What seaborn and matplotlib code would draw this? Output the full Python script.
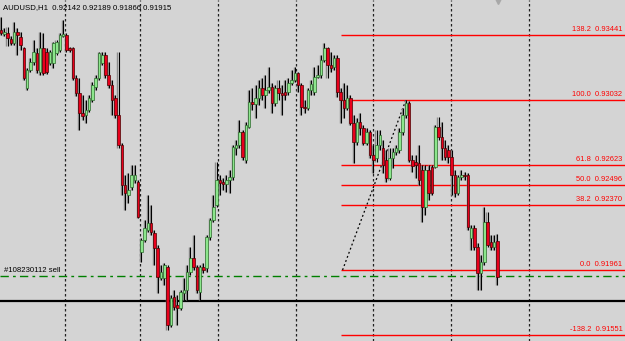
import matplotlib
matplotlib.use("Agg")
import matplotlib.pyplot as plt
import seaborn as sns
import numpy as np
import pandas as pd

# ---------------- data ----------------
opens = [0.93473,0.93448,0.93454,0.93416,0.93391,0.93460,0.93429,0.93360,0.93108,0.93221,
         0.93271,0.93328,0.93208,0.93360,0.93334,0.93265,0.93265,0.93328,0.93347,0.93435,
         0.93441,0.93360,0.93360,0.93171,0.93076,0.92950,0.92937,0.92969,0.93032,0.93114,
         0.93171,0.93265,0.93315,0.93189,0.93127,0.93045,0.92937,0.92749,0.92497,0.92434,
         0.92484,0.92528,0.92515,0.92074,0.92150,0.92213,0.92257,0.92194,0.92100,0.91911,
         0.91911,0.91980,0.91615,0.91791,0.91741,0.91722,0.91816,0.91835,0.91948,0.92037,
         0.91980,0.91822,0.91980,0.91974,0.92169,0.92276,0.92371,0.92528,0.92515,0.92503,
         0.92528,0.92547,0.92730,0.92749,0.92831,0.92654,0.92862,0.93019,0.93007,0.93045,
         0.93108,0.93063,0.93095,0.93114,0.93013,0.93108,0.93076,0.93082,0.93082,0.93139,
         0.93158,0.93202,0.93127,0.92988,0.92982,0.93095,0.93082,0.93177,0.93189,0.93284,
         0.93360,0.93252,0.93240,0.93297,0.93082,0.93032,0.92982,0.93045,0.92887,0.92767,
         0.92893,0.92856,0.92761,0.92831,0.92686,0.92667,0.92749,0.92730,0.92654,0.92541,
         0.92667,0.92704,0.92717,0.92831,0.92937,0.93013,0.92654,0.92641,0.92635,0.92591,
         0.92358,0.92591,0.92610,0.92610,0.92862,0.92799,0.92730,0.92717,0.92673,0.92560,
         0.92446,0.92547,0.92560,0.92560,0.92163,0.92226,0.92106,0.91942,0.92011,0.92263,
         0.92137,0.92106,0.92142]
closes = [0.93454,0.93460,0.93423,0.93391,0.93460,0.93441,0.93378,0.93171,0.93221,0.93271,
          0.93334,0.93221,0.93360,0.93202,0.93208,0.93334,0.93391,0.93397,0.93441,0.93448,
          0.93347,0.93347,0.93171,0.93076,0.92950,0.92931,0.92969,0.93045,0.93127,0.93171,
          0.93328,0.93315,0.93189,0.93127,0.93032,0.92937,0.92749,0.92497,0.92446,0.92465,
          0.92560,0.92560,0.92295,0.92150,0.92226,0.92257,0.92200,0.92100,0.91917,0.91948,
          0.91993,0.91615,0.91785,0.91728,0.91722,0.91822,0.91835,0.91948,0.92037,0.91980,
          0.91835,0.91980,0.91961,0.92169,0.92276,0.92358,0.92528,0.92509,0.92503,0.92528,
          0.92547,0.92736,0.92749,0.92831,0.92673,0.92875,0.93019,0.93007,0.93045,0.93108,
          0.93063,0.93095,0.93114,0.93013,0.93108,0.93076,0.93063,0.93063,0.93139,0.93158,
          0.93202,0.93127,0.92988,0.92982,0.93095,0.93133,0.93177,0.93189,0.93284,0.93360,
          0.93252,0.93234,0.93297,0.93082,0.93032,0.92982,0.93045,0.92887,0.92767,0.92893,
          0.92856,0.92761,0.92831,0.92686,0.92654,0.92749,0.92812,0.92622,0.92541,0.92667,
          0.92704,0.92730,0.92831,0.92937,0.93013,0.92654,0.92616,0.92622,0.92528,0.92358,
          0.92591,0.92446,0.92446,0.92862,0.92799,0.92730,0.92673,0.92673,0.92560,0.92446,
          0.92547,0.92560,0.92553,0.92232,0.92226,0.92106,0.91942,0.92011,0.92263,0.92119,
          0.92106,0.92137,0.91915]
highs = [0.93555,0.93486,0.93492,0.93435,0.93523,0.93486,0.93460,0.93366,0.93234,0.93297,
         0.93410,0.93360,0.93460,0.93454,0.93360,0.93347,0.93397,0.93410,0.93454,0.93536,
         0.93454,0.93366,0.93366,0.93189,0.93171,0.93063,0.93032,0.93063,0.93145,0.93189,
         0.93334,0.93334,0.93334,0.93271,0.93158,0.93063,0.93334,0.92761,0.92560,0.92572,
         0.92623,0.92623,0.92528,0.92163,0.92276,0.92434,0.92371,0.92213,0.92119,0.91993,
         0.92005,0.91993,0.91804,0.91835,0.91804,0.91835,0.91911,0.91993,0.92106,0.92181,
         0.91993,0.91993,0.92005,0.92181,0.92289,0.92434,0.92641,0.92560,0.92541,0.92560,
         0.92591,0.92749,0.92780,0.92906,0.92843,0.92893,0.93095,0.93108,0.93127,0.93158,
         0.93171,0.93189,0.93240,0.93139,0.93127,0.93158,0.93127,0.93158,0.93171,0.93221,
         0.93240,0.93208,0.93139,0.93032,0.93108,0.93158,0.93240,0.93252,0.93315,0.93391,
         0.93366,0.93334,0.93315,0.93315,0.93108,0.93139,0.93127,0.93063,0.92937,0.92919,
         0.92950,0.92875,0.92856,0.92843,0.92749,0.92843,0.92843,0.92780,0.92717,0.92730,
         0.92730,0.92749,0.92856,0.92982,0.93032,0.93026,0.92686,0.92686,0.92749,0.92622,
         0.92622,0.92622,0.92622,0.92875,0.92925,0.92893,0.92780,0.92749,0.92717,0.92591,
         0.92560,0.92591,0.92578,0.92572,0.92244,0.92244,0.92131,0.92056,0.92358,0.92326,
         0.92181,0.92181,0.92189]
lows = [0.93441,0.93435,0.93372,0.93378,0.93378,0.93315,0.93347,0.93158,0.93095,0.93208,
        0.93252,0.93202,0.93189,0.93189,0.93196,0.93252,0.93234,0.93315,0.93334,0.93429,
        0.93334,0.93334,0.93158,0.93057,0.92843,0.92906,0.92887,0.92956,0.93019,0.93095,
        0.93158,0.93252,0.93171,0.93108,0.92937,0.92919,0.92730,0.92434,0.92339,0.92383,
        0.92465,0.92509,0.92289,0.92011,0.92137,0.92200,0.92181,0.91993,0.91816,0.91898,
        0.91866,0.91583,0.91602,0.91709,0.91615,0.91709,0.91772,0.91772,0.91929,0.91961,
        0.91816,0.91772,0.91942,0.91948,0.92150,0.92263,0.92358,0.92434,0.92465,0.92452,
        0.92446,0.92528,0.92686,0.92730,0.92654,0.92635,0.92856,0.92969,0.92919,0.93001,
        0.93032,0.92982,0.93076,0.92950,0.92994,0.93032,0.92937,0.93032,0.93063,0.93127,
        0.93145,0.93082,0.92937,0.92950,0.92969,0.93063,0.93063,0.93171,0.93171,0.93271,
        0.93171,0.93208,0.93221,0.93051,0.92887,0.92919,0.92969,0.92874,0.92635,0.92749,
        0.92812,0.92749,0.92749,0.92667,0.92572,0.92641,0.92717,0.92572,0.92515,0.92528,
        0.92604,0.92686,0.92698,0.92812,0.92919,0.92641,0.92578,0.92541,0.92497,0.92263,
        0.92307,0.92402,0.92434,0.92604,0.92780,0.92654,0.92654,0.92635,0.92434,0.92421,
        0.92434,0.92528,0.92528,0.92213,0.92087,0.92087,0.91835,0.91835,0.91993,0.92106,
        0.92087,0.92087,0.91866]

fib_labels = ["138.2", "100.0", "61.8", "50.0", "38.2", "0.0", "-138.2"]
fib_prices = [0.93441, 0.93032, 0.92623, 0.92496, 0.92370, 0.91961, 0.91551]
fib_anchor_bars = [104.6, 124.0]          # low anchor bar, high anchor bar
fib_anchor_prices = [0.91961, 0.93032]
day_separators = [19.6, 42.6, 66.4, 90.3, 113.9, 137.8, 161.7]
order_price = 0.91923
order_label = "#108230112 sell"
support_price = 0.91766
title = "AUDUSD,H1  0.92142 0.92189 0.91866 0.91915"

# ---------------- style ----------------
sns.set_theme(style="white", rc={"axes.facecolor": "#d4d4d4", "figure.facecolor": "#d4d4d4"})
plt.rcParams["font.family"] = ["Liberation Sans", "DejaVu Sans"]

fig = plt.figure(figsize=(6.25, 3.41), dpi=100)
ax = fig.add_axes([0, 0, 1, 1])
ax.set_facecolor("#d4d4d4")

df = pd.DataFrame({"open": opens, "high": highs, "low": lows, "close": closes})
df["bar"] = np.arange(len(df))
df["bull"] = df["close"] >= df["open"]

x_left, x_right = -0.31, 191.1
y_top, y_bottom = 0.93662, 0.91514

# day separators
for d in day_separators:
    ax.axvline(d, color="#202020", lw=0.9, ls=(0, (2, 2)), zorder=1)

# fib levels
for lab, p in zip(fib_labels, fib_prices):
    ax.hlines(p, fib_anchor_bars[0] - 0.5, x_right, color="#ff0000", lw=1.0, zorder=2)
    ax.annotate(f"{lab}  {p:.5f}", xy=(0.996, p), xycoords=("axes fraction", "data"),
                xytext=(0, 1.5), textcoords="offset points", ha="right", va="bottom",
                fontsize=5.4, color="#ff0000")

# order line & support line
ax.axhline(order_price, color="#008000", lw=1.0, ls=(0, (6, 3, 2, 3)), zorder=2)
ax.axhline(support_price, color="black", lw=1.6, zorder=2)
ax.annotate(order_label, xy=(0.006, order_price), xycoords=("axes fraction", "data"),
            xytext=(0, 1.5), textcoords="offset points", ha="left", va="bottom",
            fontsize=5.6, color="black")

# fib trend line
trend = pd.DataFrame({"bar": fib_anchor_bars, "price": fib_anchor_prices})
sns.lineplot(data=trend, x="bar", y="price", ax=ax, color="black", lw=0.9,
             linestyle=(0, (1.5, 2)), zorder=3)

# candle shadows, wicks and bodies
ax.vlines(df["bar"] - 0.33, df["low"], df["high"], color="#8c8c8c", lw=1.0, zorder=3)
ax.vlines(df["bar"], df["low"], df["high"], color="black", lw=0.8, zorder=4)
body_bottom = np.minimum(df["open"], df["close"])
body_h = np.maximum(np.abs(df["close"] - df["open"]), 0.00003)
fills = np.where(df["bull"], "#8ce68c", "#e8001c")
edges = np.where(df["bull"], "#2d6a2d", "#4a0000")
ax.bar(df["bar"], body_h, bottom=body_bottom, width=0.78, color=fills,
       edgecolor=edges, linewidth=0.5, zorder=5)

# shift marker
ax.plot([len(df) - 1 + 0.2], [y_top - 0.00007], marker="v", ms=4, color="#a8a8a8",
        mec="#a8a8a8", zorder=6)

ax.text(3 / 625, 1 - 8 / 341, title, transform=ax.transAxes, ha="left", va="center",
        fontsize=5.6, color="black")

ax.set_xlim(x_left, x_right)
ax.set_ylim(y_bottom, y_top)
ax.set_xlabel("")
ax.set_ylabel("")
ax.set_xticks([])
ax.set_yticks([])
for s in ax.spines.values():
    s.set_visible(False)

fig.savefig("out.png", dpi=100, facecolor=fig.get_facecolor())
